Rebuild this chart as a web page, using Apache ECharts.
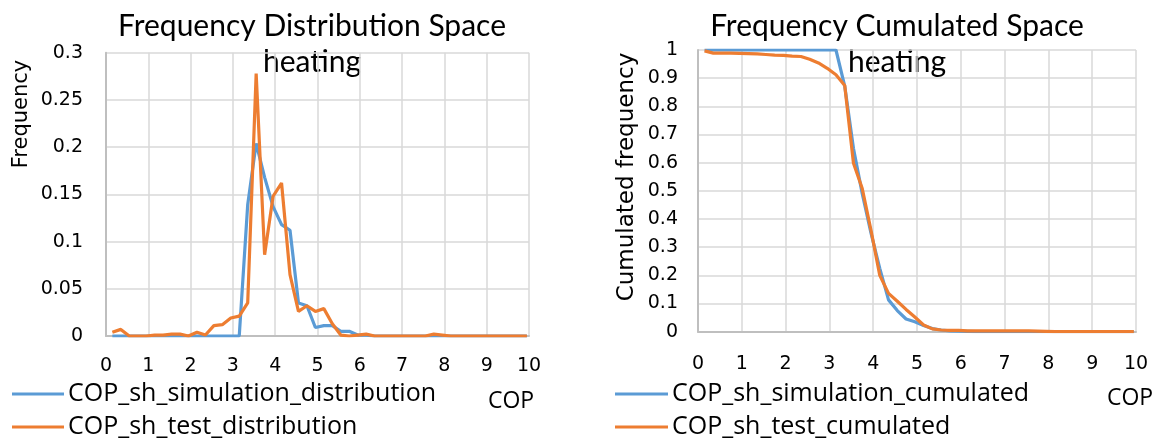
<!DOCTYPE html>
<html>
<head>
<meta charset="utf-8">
<script src="https://cdn.jsdelivr.net/npm/echarts@6/dist/echarts.min.js"></script>
<style>
  html, body { margin: 0; padding: 0; background: #fff; }
  #chart { width: 1162px; height: 439px; }
</style>
</head>
<body>
<div id="chart"></div>
<script>
// COP bin centres (shared x values of all four curves)
const cop = [0.15, 0.35, 0.55, 0.75, 0.95, 1.15, 1.35, 1.55, 1.75, 1.95,
             2.15, 2.35, 2.55, 2.75, 2.95, 3.15, 3.35, 3.55, 3.75, 3.95,
             4.15, 4.35, 4.55, 4.75, 4.95, 5.15, 5.35, 5.55, 5.75, 5.95,
             6.15, 6.35, 6.55, 6.75, 6.95, 7.15, 7.35, 7.55, 7.75, 7.95,
             8.15, 8.35, 8.55, 8.75, 8.95, 9.15, 9.35, 9.55, 9.75, 9.95];

// Frequency distribution
const simDist = [0, 0, 0, 0, 0, 0, 0, 0, 0, 0,
                 0, 0, 0, 0, 0, 0, 0.139, 0.204, 0.168, 0.137,
                 0.118, 0.112, 0.035, 0.032, 0.009, 0.011, 0.011, 0.005, 0.005, 0.001,
                 0.001, 0, 0, 0, 0, 0, 0, 0, 0, 0,
                 0, 0, 0, 0, 0, 0, 0, 0, 0, 0];
const testDist = [0.004, 0.007, 0, 0, 0, 0.001, 0.001, 0.002, 0.002, 0,
                  0.004, 0.001, 0.011, 0.012, 0.019, 0.021, 0.035, 0.278, 0.086, 0.148,
                  0.162, 0.065, 0.026, 0.032, 0.026, 0.029, 0.013, 0.001, 0, 0.001,
                  0.002, 0, 0, 0, 0, 0, 0, 0, 0.002, 0.001,
                  0, 0, 0, 0, 0, 0, 0, 0, 0, 0];

// Cumulated (exceedance) frequency
const simCum = [1, 1, 1, 1, 1, 1, 1, 1, 1, 1,
                1, 1, 1, 1, 1, 1, 0.872, 0.65, 0.49, 0.35,
                0.225, 0.113, 0.075, 0.045, 0.035, 0.022, 0.011, 0.006, 0.003, 0.002,
                0.001, 0, 0, 0, 0, 0, 0, 0, 0, 0,
                0, 0, 0, 0, 0, 0, 0, 0, 0, 0];
const testCum = [0.997, 0.989, 0.989, 0.989, 0.988, 0.987, 0.986, 0.984, 0.982, 0.981,
                 0.978, 0.977, 0.967, 0.954, 0.935, 0.912, 0.874, 0.598, 0.508, 0.36,
                 0.2, 0.136, 0.108, 0.079, 0.052, 0.024, 0.01, 0.006, 0.005, 0.005,
                 0.003, 0.003, 0.003, 0.003, 0.003, 0.003, 0.003, 0.003, 0.002, 0.001,
                 0, 0, 0, 0, 0, 0, 0, 0, 0, 0];

const names = {
  simDist: 'COP_sh_simulation_distribution',
  testDist: 'COP_sh_test_distribution',
  simCum: 'COP_sh_simulation_cumulated',
  testCum: 'COP_sh_test_cumulated'
};

const BLUE = '#5B9BD5';
const ORANGE = '#ED7D31';
const TITLE_FONT = 'Lato, sans-serif';
const TEXT_FONT = '"Open Sans", sans-serif';
const TICK_FONT = '"DejaVu Sans", sans-serif';

const pairs = (ys) => cop.map((x, i) => [x, ys[i]]);

function xAxisFor(gridIndex, margin) {
  return {
    type: 'value', gridIndex, min: 0, max: 10, interval: 1,
    axisLine: { show: true, lineStyle: { color: '#BFBFBF', width: 2 } },
    axisTick: { show: false },
    splitLine: { show: true, lineStyle: { color: '#D9D9D9', width: 1.5 } },
    axisLabel: { color: '#000', fontFamily: TICK_FONT, fontSize: 19, margin }
  };
}
function yAxisFor(gridIndex, max, interval, margin) {
  return {
    type: 'value', gridIndex, min: 0, max, interval,
    axisLine: { show: true, lineStyle: { color: '#BFBFBF', width: 2 } },
    axisTick: { show: false },
    splitLine: { show: true, lineStyle: { color: '#D9D9D9', width: 1.5 } },
    axisLabel: { color: '#000', fontFamily: TICK_FONT, fontSize: 19, margin }
  };
}
function lineSeries(name, ys, color, axisIndex) {
  return {
    name, type: 'line', data: pairs(ys),
    xAxisIndex: axisIndex, yAxisIndex: axisIndex,
    showSymbol: false, symbol: 'none', smooth: false,
    lineStyle: { color, width: 3.2 }, itemStyle: { color },
    emphasis: { disabled: true }, animation: false
  };
}
// one legend entry per component so each row sits exactly where it should
function legendItem(left, centerY, lineWidth, name) {
  return {
    left, top: centerY - 17, padding: 0, itemWidth: lineWidth, itemHeight: 3, itemGap: 0,
    icon: 'rect', data: [name], selectedMode: false,
    textStyle: { color: '#000', fontFamily: TEXT_FONT, fontSize: 25, lineHeight: 34, padding: [0, 0, 0, -1] }
  };
}
function label(text, x, y, size, family, rot) {
  return {
    type: 'text', x, y, rotation: rot || 0,
    style: { text, fill: '#000', font: size + 'px ' + family,
             align: 'center', verticalAlign: 'middle' }
  };
}

const chart = echarts.init(document.getElementById('chart'), null, { renderer: 'canvas' });
chart.setOption({
  animation: false,
  backgroundColor: '#fff',
  grid: [
    { left: 106, top: 52.7, width: 423, height: 283.3 },
    { left: 698, top: 50, width: 438, height: 281.7 }
  ],
  xAxis: [xAxisFor(0, 21), xAxisFor(1, 23)],
  yAxis: [yAxisFor(0, 0.3, 0.05, 23), yAxisFor(1, 1, 0.1, 20)],
  legend: [
    legendItem(12, 394, 52, names.simDist),
    legendItem(12, 427, 52, names.testDist),
    legendItem(615, 394, 53, names.simCum),
    legendItem(615, 427, 53, names.testCum)
  ],
  series: [
    lineSeries(names.simDist, simDist, BLUE, 0),
    lineSeries(names.testDist, testDist, ORANGE, 0),
    lineSeries(names.simCum, simCum, BLUE, 1),
    lineSeries(names.testCum, testCum, ORANGE, 1)
  ],
  graphic: [
    label('Frequency Distribution Space', 312, 26, 30, TITLE_FONT),
    label('heating', 312, 62, 30, TITLE_FONT),
    label('Frequency Cumulated Space', 897, 26, 30, TITLE_FONT),
    label('heating', 897, 62, 30, TITLE_FONT),
    label('Frequency', 22, 114, 21, TICK_FONT, Math.PI / 2),
    label('Cumulated frequency', 627, 177, 23, TICK_FONT, Math.PI / 2),
    label('COP', 511, 401, 23, TEXT_FONT),
    label('COP', 1130, 398, 23, TEXT_FONT)
  ]
});
</script>
</body>
</html>
